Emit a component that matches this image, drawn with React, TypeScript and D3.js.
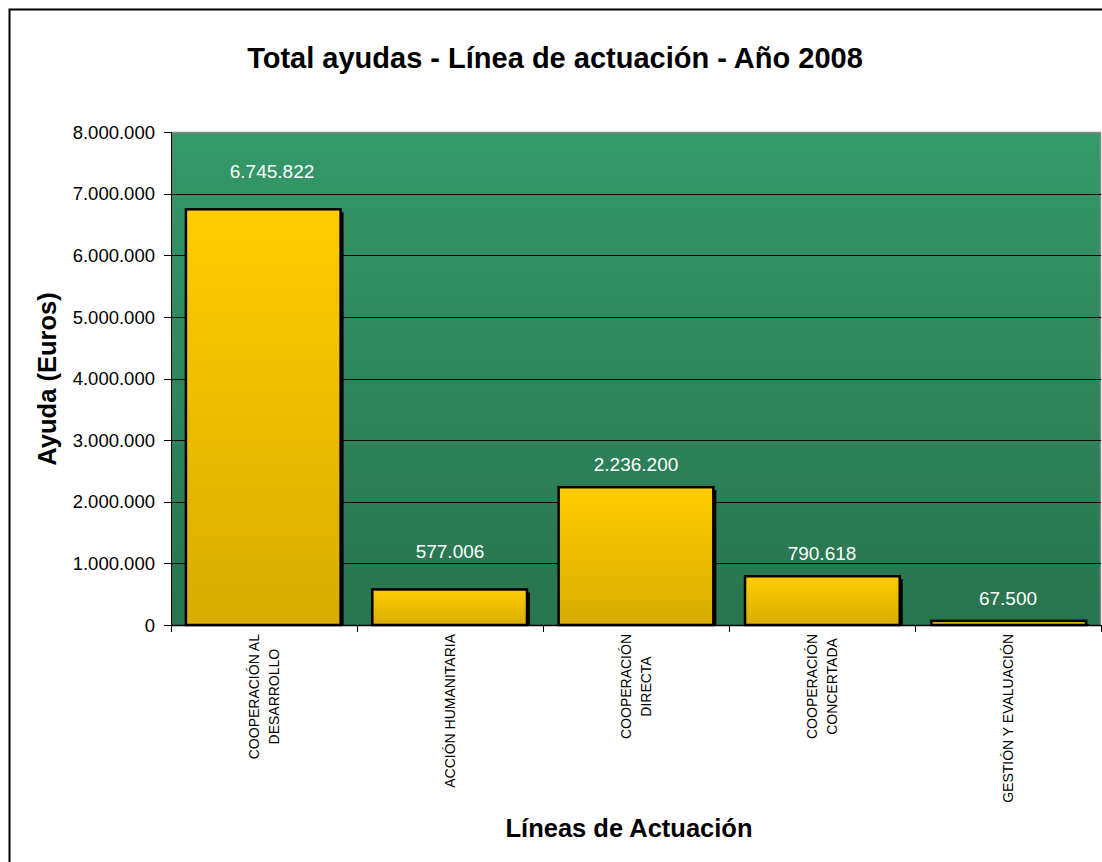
import React, { useEffect, useRef } from "react";
import * as d3 from "d3";

const categories: string[][] = [
  ["COOPERACIÓN AL", "DESARROLLO"],
  ["ACCIÓN HUMANITARIA"],
  ["COOPERACIÓN", "DIRECTA"],
  ["COOPERACIÓN", "CONCERTADA"],
  ["GESTIÓN  Y EVALUACIÓN"],
];
const values: number[] = [6745822, 577006, 2236200, 790618, 67500];
const yTicks: number[] = [0, 1000000, 2000000, 3000000, 4000000, 5000000, 6000000, 7000000, 8000000];

const W = 1102;
const H = 862;
const FONT = "'Liberation Sans', Arial, sans-serif";
const fmt = (v: number) => {
  const s = Math.round(v).toString();
  return s.replace(/\B(?=(\d{3})+(?!\d))/g, ".");
};

export default function App() {
  const ref = useRef<SVGSVGElement>(null);
  useEffect(() => {
    const svg = d3.select(ref.current!);
    svg.selectAll("*").remove();

    const left = 171, right = 1101, top = 132, bottom = 625;
    const x = d3.scaleBand<number>().domain(values.map((_, i) => i)).range([left, right]).paddingInner(0.17).paddingOuter(0.08);
    const xb = d3.scaleBand<number>().domain(values.map((_, i) => i)).range([left, right]);
    const y = d3.scaleLinear().domain([0, 8000000]).range([bottom, top]);

    const defs = svg.append("defs");
    const bg = defs.append("linearGradient").attr("id", "bg").attr("x1", 0).attr("y1", 0).attr("x2", 0).attr("y2", 1);
    bg.append("stop").attr("offset", "0%").attr("stop-color", "#35996A");
    bg.append("stop").attr("offset", "100%").attr("stop-color", "#28744F");
    const bar = defs.append("linearGradient").attr("id", "bar").attr("x1", 0).attr("y1", 0).attr("x2", 0).attr("y2", 1);
    bar.append("stop").attr("offset", "0%").attr("stop-color", "#FFCC00");
    bar.append("stop").attr("offset", "100%").attr("stop-color", "#D8AD00");

    svg.append("rect").attr("x", 0).attr("y", 0).attr("width", W).attr("height", H).attr("fill", "#fff");
    svg.append("rect").attr("x", 9.5).attr("y", 9.5).attr("width", W + 20).attr("height", H + 20)
      .attr("fill", "#fff").attr("stroke", "#000").attr("stroke-width", 2);

    // title
    svg.append("text").attr("x", 555).attr("y", 68).attr("text-anchor", "middle")
      .attr("font-family", FONT).attr("font-weight", "bold").attr("font-size", 29)
      .text("Total ayudas - Línea de actuación - Año 2008");

    // plot background
    svg.append("rect").attr("x", left).attr("y", top).attr("width", right - left).attr("height", bottom - top).attr("fill", "url(#bg)");
    svg.append("path").attr("d", `M${left},${top + 0.5}H${right - 0.5}V${bottom}`).attr("fill", "none").attr("stroke", "#888").attr("stroke-width", 1.5);

    // gridlines
    svg.append("g").selectAll("line").data(yTicks.filter(t => t > 0 && t < 8000000)).join("line")
      .attr("x1", left).attr("x2", right).attr("y1", d => Math.round(y(d)) + 0.5).attr("y2", d => Math.round(y(d)) + 0.5)
      .attr("stroke", "#000").attr("stroke-width", 1);

    // y ticks and labels
    const yg = svg.append("g");
    yg.selectAll("line").data(yTicks).join("line")
      .attr("x1", left - 7).attr("x2", left).attr("y1", d => Math.round(y(d)) + 0.5).attr("y2", d => Math.round(y(d)) + 0.5)
      .attr("stroke", "#000");
    yg.selectAll("text").data(yTicks).join("text")
      .attr("x", 155).attr("y", d => y(d)).attr("dy", "0.36em").attr("text-anchor", "end")
      .attr("font-family", FONT).attr("font-size", 18.5).text(d => fmt(d));
    svg.append("line").attr("x1", left + 0.5).attr("x2", left + 0.5).attr("y1", top).attr("y2", bottom).attr("stroke", "#000");

    // bars
    const bars = svg.append("g");
    values.forEach((v, i) => {
      const bx = x(i)!, bw = x.bandwidth(), by = y(v);
      bars.append("rect").attr("x", bx + 3).attr("y", by + 3).attr("width", bw).attr("height", Math.max(0, bottom - by - 3)).attr("fill", "#000");
      bars.append("rect").attr("x", bx).attr("y", by).attr("width", bw).attr("height", bottom - by)
        .attr("fill", "url(#bar)").attr("stroke", "#000").attr("stroke-width", 2.5);
    });

    // x axis
    svg.append("line").attr("x1", left).attr("x2", right).attr("y1", bottom + 0.5).attr("y2", bottom + 0.5).attr("stroke", "#000").attr("stroke-width", 1.5);
    svg.append("g").selectAll("line").data(d3.range(values.length + 1)).join("line")
      .attr("x1", i => left + i * xb.step() + 0.5).attr("x2", i => left + i * xb.step() + 0.5)
      .attr("y1", bottom).attr("y2", bottom + 7).attr("stroke", "#000");

    // value labels
    svg.append("g").selectAll("text").data(values).join("text")
      .attr("x", (_, i) => xb(i)! + xb.bandwidth() / 2 + (i === 0 ? 8 : 0)).attr("y", d => y(d) - (d > 5000000 || (d > 500000 && d < 700000) ? 31 : 16))
      .attr("text-anchor", "middle").attr("font-family", FONT).attr("font-size", 19).attr("fill", "#fff")
      .text(d => fmt(d));

    // category labels
    categories.forEach((lines, i) => {
      const cx = xb(i)! + xb.bandwidth() / 2;
      const g = svg.append("g");
      const t = g.append("text").attr("font-family", FONT).attr("font-size", 14).attr("text-anchor", "middle");
      lines.forEach((ln, j) => {
        t.append("tspan").attr("x", 0).attr("y", 5 + (j - (lines.length - 1) / 2) * 20).text(ln);
      });
      let maxLen = 0;
      t.selectAll<SVGTSpanElement, unknown>("tspan").each(function () {
        maxLen = Math.max(maxLen, this.getComputedTextLength());
      });
      g.attr("transform", `translate(${cx},${634 + maxLen / 2}) rotate(-90)`);
    });

    // axis titles
    svg.append("text").attr("transform", `translate(56,379) rotate(-90)`).attr("text-anchor", "middle")
      .attr("font-family", FONT).attr("font-weight", "bold").attr("font-size", 25.5).text("Ayuda (Euros)");
    svg.append("text").attr("x", 629).attr("y", 837).attr("text-anchor", "middle")
      .attr("font-family", FONT).attr("font-weight", "bold").attr("font-size", 25.5).text("Líneas de Actuación");
  }, []);
  return (
    <svg ref={ref} width={W} height={H} style={{ position: "absolute", left: 0, top: 0, display: "block" }} />
  );
}
